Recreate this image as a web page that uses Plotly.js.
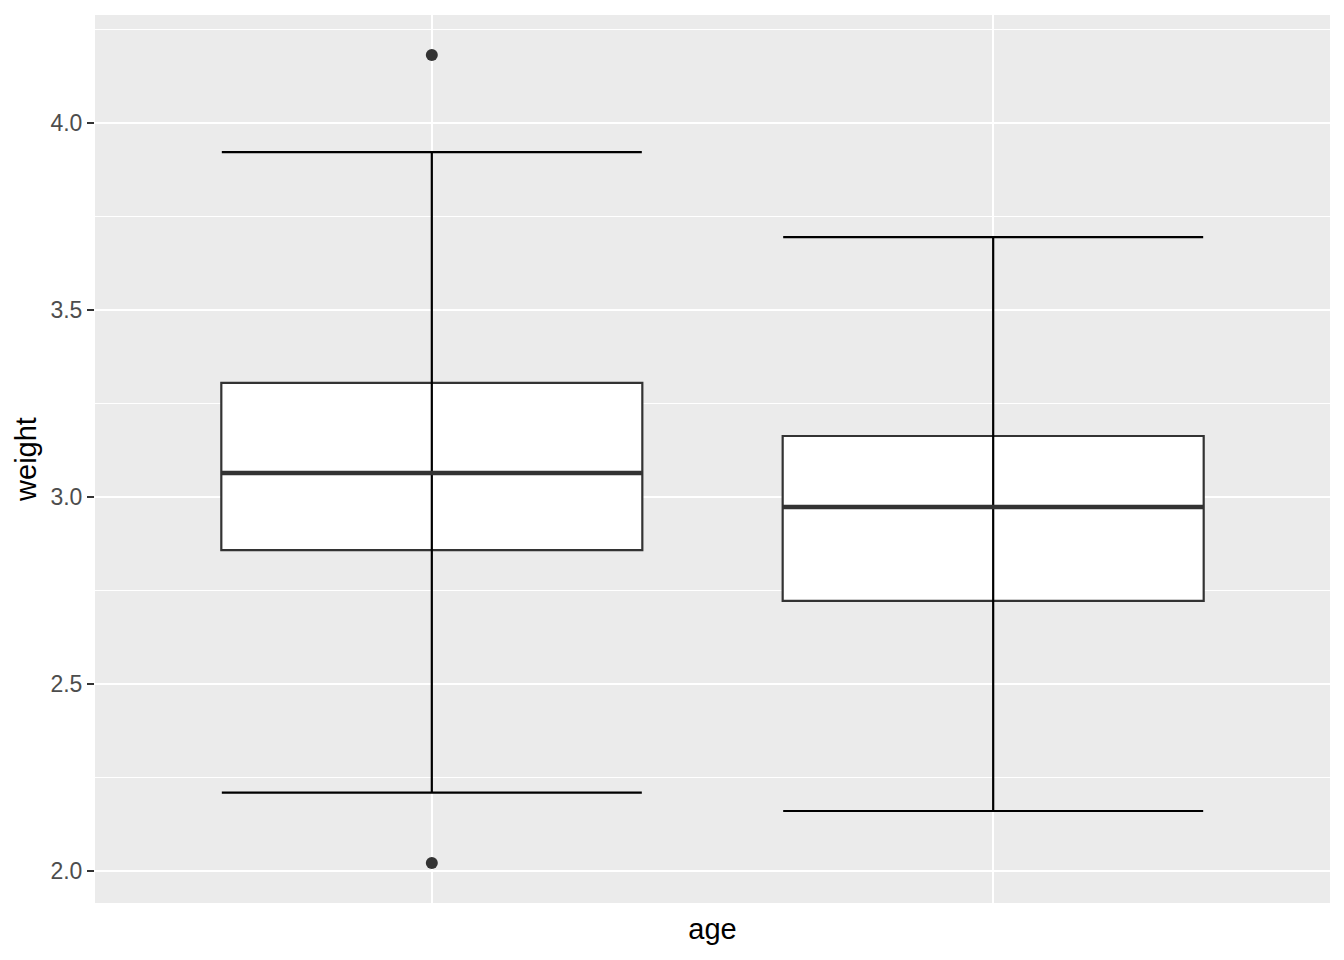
<!DOCTYPE html>
<html>
<head>
<meta charset="utf-8">
<script src="https://cdn.plot.ly/plotly-3.0.1.min.js"></script>
<style>html,body{margin:0;padding:0;background:#fff;}#chart{width:1344px;height:960px;}</style>
</head>
<body>
<div id="chart"></div>
<script>
// Data
var positions = [1, 2];
var q1 = [2.858, 2.722];
var median = [3.064, 2.973];
var q3 = [3.305, 3.163];
var lowerWhisker = [2.209, 2.160];
var upperWhisker = [3.922, 3.695];
var outlierX = [1, 1];
var outlierY = [4.182, 2.021];
var boxWidth = 0.75;

var errPlus = upperWhisker.map(function (u, i) { return u - median[i]; });
var errMinus = lowerWhisker.map(function (l, i) { return median[i] - l; });

var traces = [
  {
    type: 'box',
    x: positions,
    q1: q1,
    median: median,
    q3: q3,
    lowerfence: q1,
    upperfence: q3,
    width: boxWidth,
    whiskerwidth: 0,
    fillcolor: '#ffffff',
    line: {color: '#333333', width: 2.2},
    boxpoints: false,
    hoverinfo: 'skip',
    showlegend: false
  },
  {
    type: 'scatter',
    mode: 'markers',
    x: positions,
    y: median,
    marker: {size: 1, opacity: 0},
    error_y: {
      type: 'data', symmetric: false,
      array: errPlus, arrayminus: errMinus,
      color: '#000000', thickness: 2.2, width: 210
    },
    error_x: {
      type: 'constant', value: boxWidth / 2,
      color: '#333333', thickness: 4.5, width: 0
    },
    hoverinfo: 'skip',
    showlegend: false
  },
  {
    type: 'scatter',
    mode: 'markers',
    x: outlierX,
    y: outlierY,
    marker: {color: '#333333', size: 12},
    hoverinfo: 'skip',
    showlegend: false
  }
];

var layout = {
  width: 1344,
  height: 960,
  margin: {l: 95, r: 14, t: 15, b: 57},
  paper_bgcolor: '#ffffff',
  plot_bgcolor: '#EBEBEB',
  font: {family: 'Liberation Sans, Arial, sans-serif'},
  showlegend: false,
  xaxis: {
    range: [0.4, 2.6],
    tickvals: positions,
    ticktext: ['', ''],
    showticklabels: false,
    ticks: '',
    showgrid: true,
    gridcolor: '#ffffff',
    gridwidth: 2.2,
    zeroline: false,
    showline: false,
    title: {text: 'age', font: {size: 29, color: '#000000'}, standoff: 15}
  },
  yaxis: {
    range: [1.914, 4.289],
    tickvals: [2.0, 2.5, 3.0, 3.5, 4.0],
    tickformat: '.1f',
    ticks: 'outside',
    ticklen: 7,
    tickwidth: 2.4,
    tickcolor: '#333333',
    tickfont: {size: 23, color: '#4d4d4d'},
    showgrid: true,
    gridcolor: '#ffffff',
    gridwidth: 2.2,
    minor: {tickvals: [2.25, 2.75, 3.25, 3.75, 4.25], showgrid: true, gridcolor: '#ffffff', gridwidth: 1.1, ticks: ''},
    zeroline: false,
    showline: false,
    title: {text: 'weight', font: {size: 29, color: '#000000'}, standoff: 5}
  }
};

Plotly.newPlot('chart', traces, layout, {displayModeBar: false, staticPlot: true});
</script>
</body>
</html>
